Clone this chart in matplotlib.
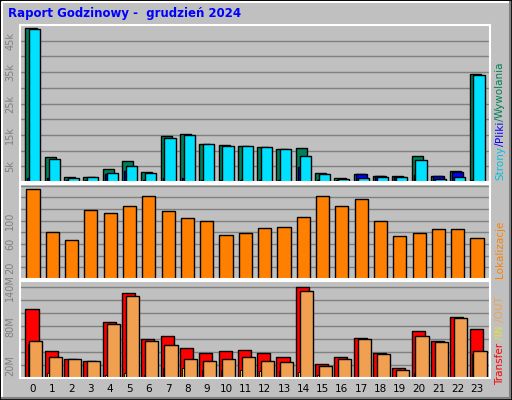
import matplotlib
matplotlib.use("Agg")
import matplotlib.pyplot as plt
import numpy as np

hours = list(range(24))
hits  = [49.0,8.0,1.6,1.6,4.2,6.7,3.2,14.7,15.4,12.2,11.9,11.4,11.2,10.6,10.9,2.9,1.3,2.6,1.9,1.9,8.3,1.9,3.5,34.3]
files = [1.3,1.3,0.5,0.5,2.6,3.5,0.5,1.3,1.3,0.5,0.5,0.5,0.5,0.5,4.8,0.5,0.5,2.6,1.9,1.6,2.2,1.9,3.2,0.5]
pages = [48.7,7.4,1.3,1.6,2.9,5.1,2.9,14.1,15.1,12.2,11.5,11.5,11.2,10.6,8.3,2.6,1.0,1.3,1.6,1.6,7.1,1.0,1.6,34.0]
sites = [154,81,67,118,114,125,142,116,104,100,76,79,88,90,107,142,126,137,99,74,79,86,85,71]
kbytes = [107,41,30,27,87,132,60,65,46,38,41,44,38,33,141,21,32,62,38,15,73,57,94,76]
kin    = [52,8,1,1,4,7,4,16,16,13,13,13,11,11,10,4,1,1,1,1,8,1,1,37]
kout   = [57,33,29,26,83,127,57,51,30,26,29,32,27,24,134,19,30,60,37,13,65,55,93,41]

W, H = 512, 400
fig = plt.figure(figsize=(W/100, H/100), dpi=100, facecolor="#c0c0c0")
x = np.array(hours)

def ax_at(x0, y0, x1, y1):
    ax = fig.add_axes([x0/W, 1-y1/H, (x1-x0)/W, (y1-y0)/H])
    ax.set_facecolor("#c0c0c0")
    for s in ax.spines.values():
        s.set_color("white"); s.set_linewidth(1.5)
    ax.set_xlim(-0.67, 23.67)
    ax.tick_params(length=0, labelsize=7, colors="#808080")
    ax.set_axisbelow(True)
    return ax

ec = dict(edgecolor="black", linewidth=1)
a1 = ax_at(20, 25, 490, 182)
a1.set_ylim(0, 50)
a1.set_yticks(np.arange(5, 50, 5))
a1.set_yticklabels(["5k" if v % 10 == 5 else "" for v in range(5, 50, 5)], rotation=90, va="center")
a1.yaxis.grid(True, color="#808080", linewidth=1)
a1.bar(x-0.39, hits, width=0.58, align="edge", color="#00805a", **ec)
a1.bar(x-0.29, files, width=0.58, align="edge", color="#0000ff", **ec)
a1.bar(x-0.19, pages, width=0.58, align="edge", color="#00e0ff", **ec)
a1.set_yticklabels(["5k","","15k","","25k","","35k","","45k"], rotation=90, va="center")
a1.set_xticks([])

a2 = ax_at(20, 184, 490, 279)
a2.set_ylim(0, 163)
a2.set_yticks(np.arange(20, 163, 20))
a2.set_yticklabels(["20","","60","","100","","",""], rotation=90, va="center")
a2.yaxis.grid(True, color="#808080", linewidth=1)
a2.bar(x-0.34, sites, width=0.68, align="edge", color="#ff8000", **ec)
a2.set_xticks([])

a3 = ax_at(20, 281, 490, 378)
a3.set_ylim(0, 150)
a3.set_yticks(np.arange(20, 150, 20))
a3.set_yticklabels(["20M","","","80M","","","140M"], rotation=90, va="center")
a3.yaxis.grid(True, color="#808080", linewidth=1)
a3.bar(x-0.39, kbytes, width=0.68, align="edge", color="#ff0000", **ec)
a3.bar(x-0.27, kin, width=0.1, align="edge", color="#ffff40", edgecolor="black", linewidth=0.6)
a3.bar(x-0.19, kout, width=0.68, align="edge", color="#f0a050", **ec)
a3.set_xticks(x)
a3.set_xticklabels([str(h) for h in hours], fontsize=7.5, color="black")
a3.tick_params(axis="x", pad=4)

fig.text(8/W, 1-14/H, "Raport Godzinowy -  grudzień 2024", color="#0000ff",
         fontsize=8.5, fontweight="bold", va="center", ha="left")

# outer 3D frame
fig.add_artist(plt.Rectangle((0, 0), 1, 1, transform=fig.transFigure, fill=False,
                             edgecolor="black", linewidth=2))
fig.add_artist(plt.Line2D([2/W, 2/W, 1-2/W], [2/H, 1-2/H, 1-2/H], transform=fig.transFigure, color="white", lw=1.5))
fig.add_artist(plt.Line2D([2/W, 1-2/W, 1-2/W], [2/H, 2/H, 1-2/H], transform=fig.transFigure, color="#808080", lw=1.5))

fig.canvas.draw()
r = fig.canvas.get_renderer()
def vlabel(parts, ybottom):
    y = ybottom
    for txt, col in parts:
        t = fig.text(500/W, 1-y/H, txt, color=col, rotation=90, fontsize=7.5,
                     ha="center", va="bottom")
        bb = t.get_window_extent(r)
        y -= bb.height
vlabel([("Strony", "#00c0e0"), ("/", "#0000ff"), ("Pliki", "#0000ff"), ("/", "#00805a"), ("Wywolania", "#00805a")], 180)
vlabel([("Lokalizacje", "#ff8000")], 278)
vlabel([("Transfer", "#ff0000"), (" /IN", "#e0e040"), (" /OUT", "#f0a050")], 385)

fig.savefig("out.png", dpi=100, facecolor=fig.get_facecolor())
